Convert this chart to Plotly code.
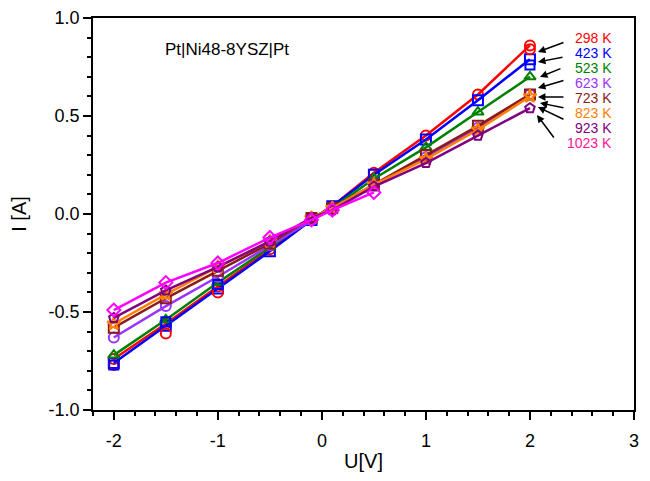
import plotly.graph_objects as go

# bias voltage steps [V]
u_volts = [-2, -1.5, -1, -0.5, -0.1, 0.1, 0.5, 1, 1.5, 2]
u_1023 = [-2, -1.5, -1, -0.5, -0.1, 0.1, 0.5]

# current [A] per temperature
i_298 = [-0.74, -0.56, -0.37, -0.18, -0.03, 0.04, 0.21, 0.40, 0.61, 0.86]
i_423 = [-0.76, -0.57, -0.38, -0.19, -0.03, 0.04, 0.20, 0.38, 0.58, 0.79]
i_523 = [-0.72, -0.54, -0.35, -0.17, -0.02, 0.03, 0.18, 0.34, 0.52, 0.70]
i_623 = [-0.63, -0.47, -0.32, -0.16, -0.03, 0.03, 0.15, 0.29, 0.44, 0.61]
i_723 = [-0.58, -0.43, -0.29, -0.15, -0.02, 0.03, 0.15, 0.30, 0.45, 0.61]
i_823 = [-0.56, -0.41, -0.27, -0.14, -0.02, 0.03, 0.15, 0.28, 0.43, 0.60]
i_923 = [-0.53, -0.39, -0.27, -0.14, -0.02, 0.02, 0.14, 0.26, 0.40, 0.54]
i_1023 = [-0.49, -0.35, -0.25, -0.12, -0.03, 0.02, 0.11]

# second sweep points that sit off the lines
u_extra = [-2, -1.5, -1, 2]
i_298_extra = [-0.77, -0.61, -0.40, 0.84]
i_423_extra = [-0.77, -0.55, -0.36, 0.76]

temps = ["298 K", "423 K", "523 K", "623 K", "723 K", "823 K", "923 K", "1023 K"]
y_ticks = [-1.0, -0.5, 0.0, 0.5, 1.0]
y_ticktext = ["-1.0", "-0.5", "0.0", "0.5", "1.0"]
x_ticks = [-2, -1, 0, 1, 2, 3]
x_ticktext = ["-2", "-1", "0", "1", "2", "3"]

series = [
    ("298 K", u_volts, i_298, "#ff0000", "circle-open"),
    ("423 K", u_volts, i_423, "#0000ff", "square-open"),
    ("523 K", u_volts, i_523, "#008000", "triangle-up-open"),
    ("623 K", u_volts, i_623, "#9933ff", "circle-open"),
    ("723 K", u_volts, i_723, "#8b1a1a", "square-open"),
    ("823 K", u_volts, i_823, "#ff8000", "star-open"),
    ("923 K", u_volts, i_923, "#800080", "pentagon-open"),
    ("1023 K", u_1023, i_1023, "#ff00ff", "diamond-open"),
]
label_colors = ["#ff0000", "#0000ff", "#008000", "#9933ff", "#8b1a1a", "#ff8000", "#800080", "#ff1493"]

FONT = "Liberation Sans, Arial, sans-serif"

fig = go.Figure()
for name, xs, ys, col, sym in series:
    fig.add_trace(go.Scatter(
        x=xs, y=ys, mode="lines+markers", name=name,
        line=dict(color=col, width=2.5),
        marker=dict(symbol=sym, size=10, color=col, line=dict(width=2, color=col)),
    ))
fig.add_trace(go.Scatter(x=u_extra, y=i_298_extra, mode="markers",
                         marker=dict(symbol="circle-open", size=10, color="#ff0000", line=dict(width=2))))
fig.add_trace(go.Scatter(x=u_extra, y=i_423_extra, mode="markers",
                         marker=dict(symbol="square-open", size=9, color="#0000ff", line=dict(width=2))))

# temperature labels with arrows pointing at the x=2 end points (pixel -> data: x=(px-322)/104, y=(214-py)/196)
label_py = [38 + 15 * k for k in range(8)]
arrow_tail = [(565, 42), (564, 57), (562, 68), (565, 80), (565, 97), (565, 108), (565, 120), (555, 139)]
arrow_head = [(538, 52), (538, 62), (540, 77), (538, 88), (538, 97), (540, 103), (538, 107), (537, 115)]
px2x = lambda p: (p - 322) / 104
px2y = lambda p: (214 - p) / 196
for t, c, py, (tx, ty), (hx, hy) in zip(temps, label_colors, label_py, arrow_tail, arrow_head):
    fig.add_annotation(x=px2x(613), y=px2y(py), text=t, showarrow=False, xanchor="right",
                       borderpad=0, font=dict(family=FONT, size=14, color=c))
    fig.add_annotation(x=px2x(hx), y=px2y(hy), ax=px2x(tx), ay=px2y(ty), axref="x", ayref="y",
                       text="", showarrow=True, arrowhead=2, arrowsize=1, arrowwidth=1.5, arrowcolor="black")

fig.add_annotation(x=-1.53, y=0.84, text="Pt|Ni48-8YSZ|Pt", showarrow=False, xanchor="left",
                   font=dict(family=FONT, size=17, color="black"))

axis_common = dict(showline=True, linecolor="black", linewidth=1.5, mirror=True,
                   ticks="outside", ticklen=8, tickwidth=1.5, tickcolor="black",
                   showgrid=False, zeroline=False,
                   tickfont=dict(family=FONT, size=18, color="black"))
fig.update_xaxes(range=[-2.2, 3], tickvals=x_ticks, ticktext=x_ticktext, ticklabelstandoff=6,
                 title=dict(text="U[V]", font=dict(family=FONT, size=20, color="black"), standoff=4),
                 minor=dict(dtick=0.2, tick0=0, ticks="outside", ticklen=4, tickcolor="black"),
                 **axis_common)
fig.update_yaxes(range=[-1, 1], tickvals=y_ticks, ticktext=y_ticktext,
                 title=dict(text="I [A]", font=dict(family=FONT, size=20, color="black"), standoff=18),
                 minor=dict(dtick=0.1, tick0=0, ticks="outside", ticklen=4, tickcolor="black"),
                 **axis_common)
# page body adds an 8px offset, so the margins are shifted to land the frame where the reference has it
fig.update_layout(width=650, height=481, showlegend=False,
                  plot_bgcolor="white", paper_bgcolor="white",
                  margin=dict(l=85, r=24, t=10, b=79, autoexpand=False))

fig.write_html("out.html")
